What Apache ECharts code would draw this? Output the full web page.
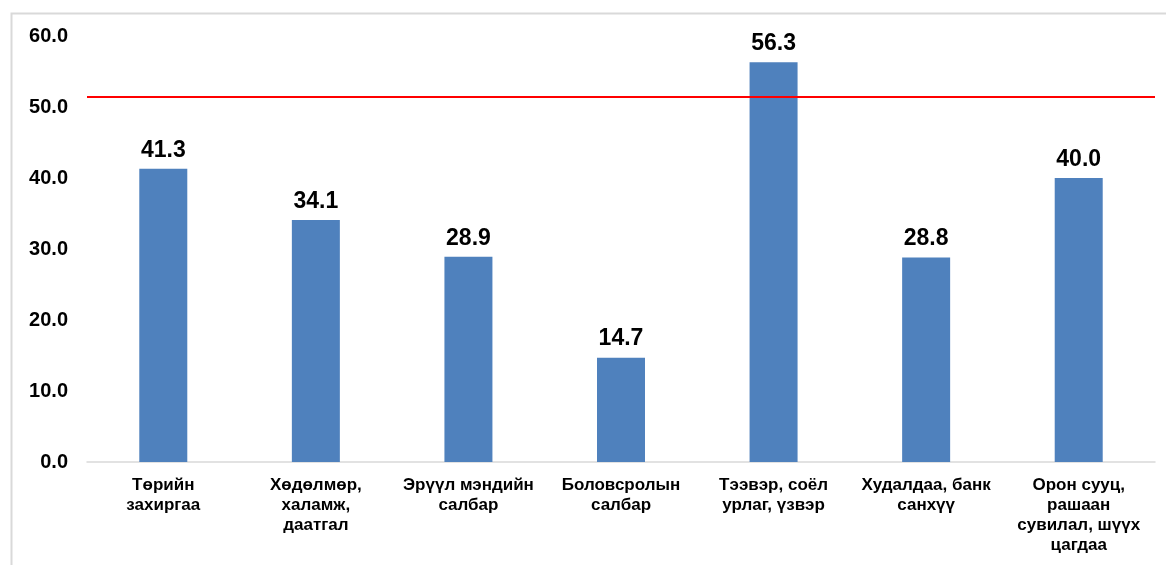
<!DOCTYPE html>
<html>
<head>
<meta charset="utf-8">
<script src="https://cdn.jsdelivr.net/npm/echarts@6/dist/echarts.min.js"></script>
<style>
  html, body { margin: 0; padding: 0; background: #fff; }
  #main { width: 1166px; height: 565px; }
</style>
</head>
<body>
<div id="main"></div>
<script>
// sectors (tick labels, wrapped as in the source)
const categories = [
  'Төрийн\nзахиргаа',
  'Хөдөлмөр,\nхаламж,\nдаатгал',
  'Эрүүл мэндийн\nсалбар',
  'Боловсролын\nсалбар',
  'Тээвэр, соёл\nурлаг, үзвэр',
  'Худалдаа, банк\nсанхүү',
  'Орон сууц,\nрашаан\nсувилал, шүүх\nцагдаа'
];
const values = [41.3, 34.1, 28.9, 14.7, 56.3, 28.8, 40.0];
const threshold = 51.5;
const yTicks = [0, 10, 20, 30, 40, 50, 60];

const chart = echarts.init(document.getElementById('main'));

const option = {
  animation: false,
  textStyle: { fontFamily: 'Liberation Sans, Arial, sans-serif' },
  graphic: [{
    type: 'rect',
    left: 9, top: 11,
    shape: { width: 1200, height: 600 },
    style: { fill: 'none', stroke: '#d9d9d9', lineWidth: 2 },
    silent: true
  }],
  grid: { left: 87, right: 11, top: 36, bottom: 103 },
  xAxis: {
    type: 'category',
    data: categories,
    axisLine: { lineStyle: { color: '#d9d9d9', width: 1.5 } },
    axisTick: { show: false },
    axisLabel: {
      interval: 0,
      color: '#000',
      fontWeight: 'bold',
      fontSize: 17,
      lineHeight: 20,
      margin: 13
    }
  },
  yAxis: {
    type: 'value',
    min: yTicks[0],
    max: yTicks[yTicks.length - 1],
    interval: 10,
    splitLine: { show: false },
    axisLine: { show: false },
    axisTick: { show: false },
    axisLabel: {
      color: '#000',
      fontWeight: 'bold',
      fontSize: 20,
      margin: 19,
      formatter: v => v.toFixed(1)
    }
  },
  series: [{
    type: 'bar',
    data: values,
    barWidth: 48,
    itemStyle: { color: '#4f81bd' },
    label: {
      show: true,
      position: 'top',
      distance: 7,
      color: '#000',
      fontWeight: 'bold',
      fontSize: 23,
      formatter: p => p.value.toFixed(1)
    },
    markLine: {
      silent: true,
      symbol: 'none',
      label: { show: false },
      lineStyle: { color: '#ff0000', width: 2, type: 'solid' },
      data: [{ yAxis: threshold }]
    }
  }]
};

chart.setOption(option);
</script>
</body>
</html>
